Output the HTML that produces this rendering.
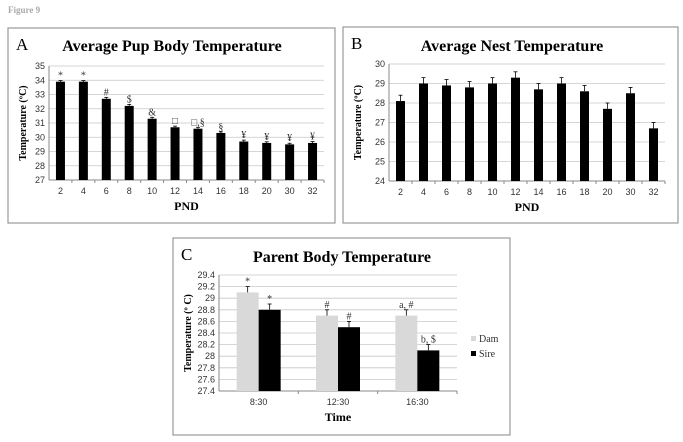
<!DOCTYPE html>
<html><head><meta charset="utf-8"><style>
body{margin:0;background:#fff;width:683px;height:442px;overflow:hidden}
svg{display:block}
text{font-family:"Liberation Serif",serif}
.tk{font-family:"Liberation Sans",sans-serif;font-size:9px;fill:#333}
</style></head><body>
<svg id="s" width="683" height="442">
<text x="8" y="13" font-size="9" font-weight="bold" fill="#aaa">Figure 9</text>
</svg>
<script>
const catsAB=["2","4","6","8","10","12","14","16","18","20","30","32"];
const pupVals=[33.9,33.9,32.7,32.2,31.3,30.7,30.6,30.3,29.7,29.6,29.5,29.6];
const pupErr=[0.08,0.08,0.1,0.1,0.1,0.08,0.1,0.08,0.1,0.08,0.08,0.1];
const pupMarks=["*","*","#","$","&","□","□,§","§","¥","¥","¥","¥"];
const nestVals=[28.1,29.0,28.9,28.8,29.0,29.3,28.7,29.0,28.6,27.7,28.5,26.7];
const nestErr=[0.3,0.3,0.3,0.3,0.3,0.3,0.3,0.3,0.3,0.3,0.3,0.3];
const pupTicks=[27,28,29,30,31,32,33,34,35];
const nestTicks=[24,25,26,27,28,29,30];
const catsC=["8:30","12:30","16:30"];
const damVals=[29.1,28.7,28.7];
const sireVals=[28.8,28.5,28.1];
const damErr=[0.1,0.1,0.1];
const sireErr=[0.1,0.1,0.1];
const damMarks=["*","#","a, #"];
const sireMarks=["*","#","b, $"];
const cTicks=[27.4,27.6,27.8,28,28.2,28.4,28.6,28.8,29,29.2,29.4];

const S=document.getElementById('s');const NS='http://www.w3.org/2000/svg';
function el(t,a,txt,p){const e=document.createElementNS(NS,t);for(const k in a)e.setAttribute(k,a[k]);if(txt!=null)e.textContent=txt;(p||S).appendChild(e);return e;}

function panel(o){
  const g=el('g',{});
  
  
  const box=el('rect',{x:o.bx,y:o.by,width:o.bw,height:o.bh,fill:'#fff',stroke:'#999','stroke-width':1.2},null,g);
  
  const L=el('text',{x:o.bx+8,y:o.by+22,'font-size':17},o.letter,g);
  
  const T=el('text',{x:o.tx,y:o.ty,'font-size':16,'font-weight':'bold','text-anchor':'middle'},o.title,g);
  
  const lo=o.ticks[0],hi=o.ticks[o.ticks.length-1];
  const y=v=>o.y1-(v-lo)/(hi-lo)*(o.y1-o.y0);
  o.ticks.forEach(t=>{
    const ln=el('line',{x1:o.x0,x2:o.x1,y1:y(t),y2:y(t),stroke:'#c8c8c8','stroke-width':0.8},null,g);
    
    const tx=el('text',{x:o.x0-4,y:y(t)+3,'text-anchor':'end',class:'tk'},String(t),g);
    
  });
  el('line',{x1:o.x0,x2:o.x0,y1:o.y0,y2:o.y1,stroke:'#888'},null,g);
  el('line',{x1:o.x0,x2:o.x1,y1:o.y1,y2:o.y1,stroke:'#888'},null,g);
  const n=o.cats.length,cw=(o.x1-o.x0)/n;
  o.cats.forEach((c,i)=>{
    const cx=o.x0+cw*(i+0.5);
    const tx=el('text',{x:cx,y:o.y1+14,'text-anchor':'middle',class:'tk'},c,g);
    
    el('line',{x1:o.x0+cw*(i+1),x2:o.x0+cw*(i+1),y1:o.y1,y2:o.y1+3,stroke:'#888'},null,g);
    o.series.forEach((s,j)=>{
      const bw=o.bw2, bx=cx-bw*o.series.length/2+bw*j;
      const v=s.vals[i],yt=y(v);
      const r=el('rect',{x:bx,y:yt,width:bw,height:o.y1-yt,fill:s.color},null,g);
      
      const ye=y(v+s.err[i]);const mx=bx+bw/2;
      el('line',{x1:mx,x2:mx,y1:yt,y2:ye,stroke:'#000','stroke-width':0.8},null,g);
      el('line',{x1:mx-2,x2:mx+2,y1:ye,y2:ye,stroke:'#000','stroke-width':0.8},null,g);
      if(s.marks){const m=el('text',{x:mx,y:ye-2,'text-anchor':'middle','font-size':10,fill:'#333'},s.marks[i],g);
        }
    });
  });
  const yl=el('text',{transform:`translate(${o.bx+18},${(o.y0+o.y1)/2}) rotate(-90)`,'text-anchor':'middle','font-size':10,'font-weight':'bold'},o.ylabel,g);
  
  const xl=el('text',{x:(o.x0+o.x1)/2,y:o.y1+30,'text-anchor':'middle','font-size':12,'font-weight':'bold'},o.xlabel,g);
  
  return g;
}
panel({name:'panel-a-pup-temperature',bx:8,by:28,bw:327,bh:195,letter:'A',title:'Average Pup Body Temperature',tx:172,ty:51,
  x0:49,x1:324,y0:66,y1:180,ticks:pupTicks,cats:catsAB,bw2:9,ylabel:'Temperature (ºC)',xlabel:'PND',
  series:[{key:'pup',vals:pupVals,err:pupErr,color:'#000',marks:pupMarks}]});
panel({name:'panel-b-nest-temperature',bx:343,by:27,bw:335,bh:196,letter:'B',title:'Average Nest Temperature',tx:512,ty:51,
  x0:389,x1:665,y0:64,y1:181,ticks:nestTicks,cats:catsAB,bw2:9,ylabel:'Temperature (ºC)',xlabel:'PND',
  series:[{key:'nest',vals:nestVals,err:nestErr,color:'#000'}]});
panel({name:'panel-c-parent-temperature',bx:173,by:238,bw:337,bh:197,letter:'C',title:'Parent Body Temperature',tx:342,ty:262,
  x0:219,x1:457,y0:275,y1:391,ticks:cTicks,cats:catsC,bw2:22,ylabel:'Temperature (º C)',xlabel:'Time',
  series:[{key:'dam',vals:damVals,err:damErr,color:'#d9d9d9',marks:damMarks},{key:'sire',vals:sireVals,err:sireErr,color:'#000',marks:sireMarks}]});
const lg=el('g',{});
[['Dam','#d9d9d9',342],['Sire','#000',357]].forEach(([n,c,yy])=>{
  const e=el('g',{},null,lg);
  el('rect',{x:471,y:yy-6,width:5,height:5,fill:c},null,e);
  el('text',{x:479,y:yy,'font-size':10,fill:'#333'},n,e);
});
</script>
</body></html>
